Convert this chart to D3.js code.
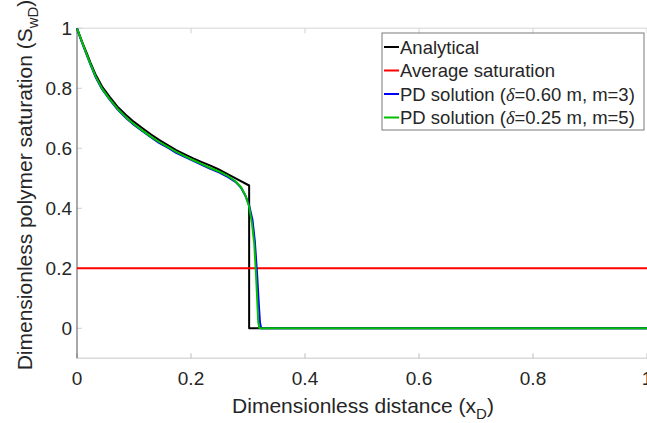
<!DOCTYPE html>
<html>
<head>
<meta charset="utf-8">
<script src="https://cdn.jsdelivr.net/npm/d3@7"></script>
<style>
  body { margin: 0; background: #fff; }
  text { font-family: "Liberation Sans", Arial, sans-serif; fill: #262626; }
</style>
</head>
<body>
<div id="chart"></div>
<script>
// values
var xAnalytical = [0, 0.005, 0.010, 0.016, 0.024, 0.033, 0.044, 0.057, 0.071, 0.086, 0.100, 0.115, 0.130, 0.144, 0.160, 0.174, 0.190, 0.203, 0.218, 0.232, 0.247, 0.261, 0.280, 0.302, 0.302, 1];
var sAnalytical = [1, 0.975, 0.950, 0.922, 0.884, 0.844, 0.806, 0.772, 0.739, 0.711, 0.688, 0.667, 0.646, 0.628, 0.610, 0.594, 0.579, 0.567, 0.555, 0.544, 0.531, 0.517, 0.498, 0.476, 0, 0];

var xAverage = [0, 1];
var sAverage = [0.2, 0.2];

var xPD1 = [0, 0.005, 0.010, 0.016, 0.024, 0.033, 0.044, 0.057, 0.071, 0.086, 0.100, 0.115, 0.130, 0.144, 0.160, 0.174, 0.190, 0.203, 0.218, 0.232, 0.250, 0.265, 0.278, 0.288, 0.296, 0.302, 0.308, 0.312, 0.316, 0.319, 0.321, 0.323, 1];
var sPD1 = [1, 0.972, 0.946, 0.916, 0.877, 0.836, 0.797, 0.763, 0.730, 0.701, 0.678, 0.657, 0.636, 0.618, 0.601, 0.585, 0.571, 0.559, 0.546, 0.533, 0.519, 0.504, 0.488, 0.468, 0.440, 0.410, 0.360, 0.290, 0.180, 0.080, 0.020, 0, 0];

var xPD2 = [0, 0.005, 0.010, 0.016, 0.024, 0.033, 0.044, 0.057, 0.071, 0.086, 0.100, 0.115, 0.130, 0.144, 0.160, 0.174, 0.190, 0.203, 0.218, 0.232, 0.250, 0.265, 0.278, 0.288, 0.296, 0.302, 0.307, 0.311, 0.314, 0.316, 0.318, 0.320, 1];
var sPD2 = [1, 0.974, 0.948, 0.918, 0.879, 0.838, 0.799, 0.765, 0.732, 0.703, 0.680, 0.659, 0.638, 0.621, 0.604, 0.588, 0.573, 0.561, 0.548, 0.536, 0.522, 0.507, 0.490, 0.470, 0.440, 0.405, 0.350, 0.280, 0.180, 0.100, 0.020, 0, 0];

var seriesNames = ["Analytical", "Average saturation", "PD solution (δ=0.60 m, m=3)", "PD solution (δ=0.25 m, m=5)"];
var seriesColors = ["#000000", "#ff0000", "#0000ff", "#00c000"];

var xTicks = [0, 0.2, 0.4, 0.6, 0.8, 1];
var yTicks = [0, 0.2, 0.4, 0.6, 0.8, 1];

var width = 647, height = 423;
var svg = d3.select("#chart").append("svg")
    .attr("width", width)
    .attr("height", height);

var x = d3.scaleLinear().domain([0, 1]).range([77, 647]);
var y = d3.scaleLinear().domain([-0.1, 1]).range([358.3, 28.3]);

// frame
svg.append("line")
    .attr("x1", x(0)).attr("x2", x(1)).attr("y1", y(1)).attr("y2", y(1))
    .attr("stroke", "#e3e3e3").attr("stroke-width", 1.5);
svg.append("line")
    .attr("x1", x(0)).attr("x2", x(1)).attr("y1", y(-0.1)).attr("y2", y(-0.1))
    .attr("stroke", "#d9d9d9").attr("stroke-width", 1.5);

// x axis ticks (bottom and top, inside)
xTicks.forEach(function(t) {
  svg.append("line")
    .attr("x1", x(t)).attr("x2", x(t)).attr("y1", y(-0.1)).attr("y2", y(-0.1) - 5)
    .attr("stroke", "#bdbdbd").attr("stroke-width", 1);
  svg.append("line")
    .attr("x1", x(t)).attr("x2", x(t)).attr("y1", y(1)).attr("y2", y(1) + 5)
    .attr("stroke", "#d0d0d0").attr("stroke-width", 1);
  svg.append("text")
    .attr("x", x(t)).attr("y", y(-0.1) + 27)
    .attr("text-anchor", "middle")
    .style("font-size", "19px")
    .text(d3.format("")(t));
});

yTicks.forEach(function(t) {
  svg.append("line")
    .attr("x1", x(0)).attr("x2", x(0) + 5).attr("y1", y(t)).attr("y2", y(t))
    .attr("stroke", "#d0d0d0").attr("stroke-width", 1);
  svg.append("text")
    .attr("x", x(0) - 5).attr("y", y(t) + 7)
    .attr("text-anchor", "end")
    .style("font-size", "19px")
    .text(d3.format("")(t));
});

// left axis line
svg.append("line")
    .attr("x1", x(0)).attr("x2", x(0)).attr("y1", y(-0.1)).attr("y2", y(1))
    .attr("stroke", "#6e6e6e").attr("stroke-width", 1.2);

// curves
var line = d3.line()
    .x(function(d) { return x(d[0]); })
    .y(function(d) { return y(d[1]); });

var allSeries = [
  d3.zip(xAnalytical, sAnalytical),
  d3.zip(xAverage, sAverage),
  d3.zip(xPD1, sPD1),
  d3.zip(xPD2, sPD2)
];

svg.selectAll("path.series")
  .data(allSeries)
  .enter()
  .append("path")
    .attr("class", "series")
    .attr("d", line)
    .attr("fill", "none")
    .attr("stroke", function(d, i) { return seriesColors[i]; })
    .attr("stroke-width", 2)
    .attr("stroke-linejoin", "round");

// legend
var lg = svg.append("g").attr("transform", "translate(382,33)");
lg.append("rect")
    .attr("x", 0).attr("y", 0).attr("width", 262).attr("height", 97)
    .attr("fill", "#fff").attr("stroke", "#7a7a7a").attr("stroke-width", 1);

seriesNames.forEach(function(name, i) {
  var cy = 14 + i * 23.5;
  lg.append("line")
    .attr("x1", 2).attr("x2", 17).attr("y1", cy).attr("y2", cy)
    .attr("stroke", seriesColors[i]).attr("stroke-width", 2);
  var t = lg.append("text")
    .attr("x", 18).attr("y", cy + 6.5)
    .style("font-size", "18.5px");
  if (i < 2) {
    t.text(name);
  } else {
    var parts = name.split("δ");
    t.append("tspan").text(parts[0]);
    t.append("tspan").style("font-style", "italic").style("font-family", "'Liberation Serif', serif").text("δ");
    t.append("tspan").text(parts[1]);
  }
});

// axis labels
var xl = svg.append("text")
    .attr("x", 363).attr("y", 413)
    .attr("text-anchor", "middle")
    .style("font-size", "21px");
xl.append("tspan").text("Dimensionless distance (x");
xl.append("tspan").attr("dy", 6).style("font-size", "15px").text("D");
xl.append("tspan").attr("dy", -6).text(")");

var yl = svg.append("text")
    .attr("transform", "translate(32,185) rotate(-90)")
    .attr("text-anchor", "middle")
    .style("font-size", "21px");
yl.append("tspan").text("Dimensionless polymer saturation (S");
yl.append("tspan").attr("dy", 6).style("font-size", "15px").text("wD");
yl.append("tspan").attr("dy", -6).text(")");
</script>
</body>
</html>
